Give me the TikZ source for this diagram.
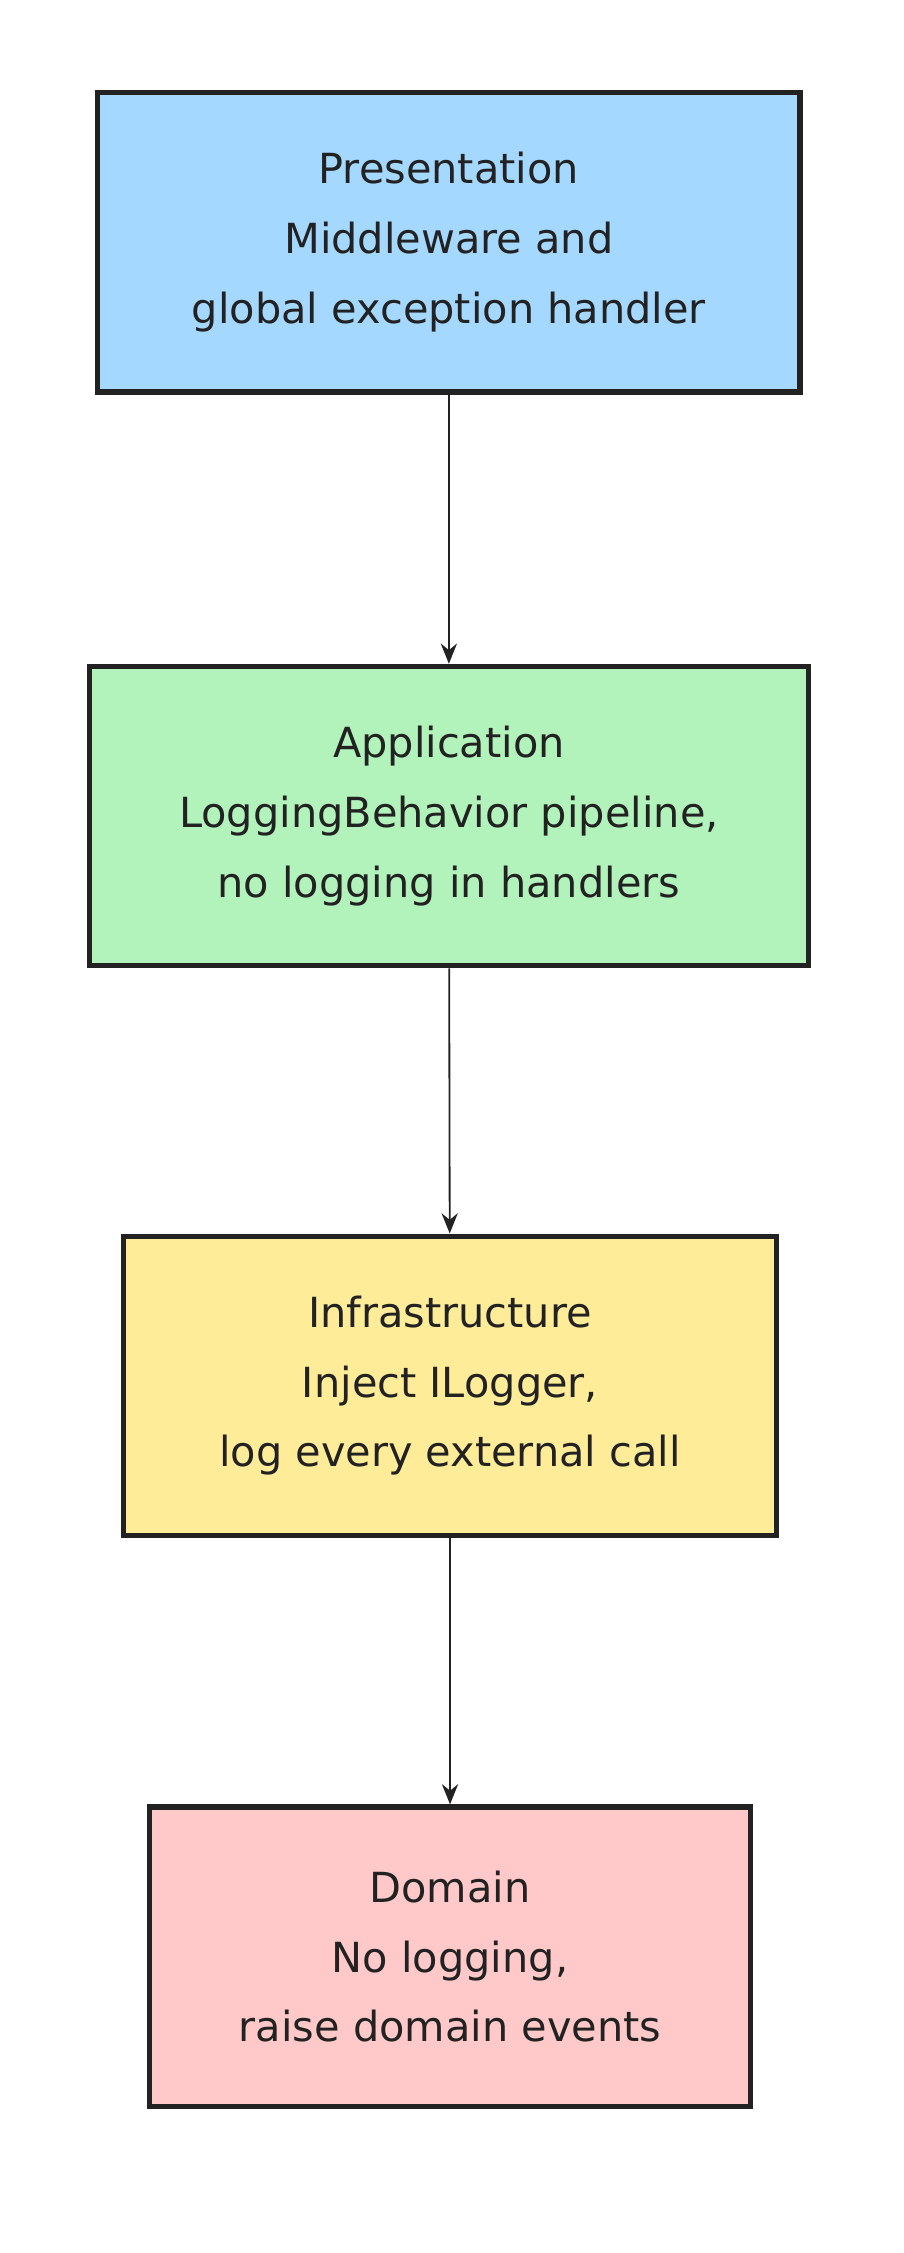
\documentclass[tikz,border=0pt]{standalone}
\usepackage{fontspec}
\setmainfont{DejaVu Sans}
\usetikzlibrary{arrows.meta}
\definecolor{layerblue}{HTML}{A5D8FF}
\definecolor{layergreen}{HTML}{B2F2BB}
\definecolor{layeryellow}{HTML}{FFEC99}
\definecolor{layerred}{HTML}{FFC9C9}
\definecolor{inkdark}{HTML}{222222}
\tikzset{
	layer/.style={draw=inkdark, line width=2.6pt, align=center, text=inkdark,
		minimum height=5.2cm, inner sep=0pt,
		font=\fontsize{20.5}{34.5}\selectfont},
	dep/.style={-{Stealth[length=10pt,width=8pt]}, draw=inkdark, line width=0.9pt}
}
\begin{document}
\begin{tikzpicture}
	
	\useasboundingbox (0,0) rectangle (15.7,-39.15);
	
	%the four layers, top to bottom
	\node[layer, fill=layerblue, minimum width=12.2cm] (presentation) at (7.8,-4.21)
		{Presentation\\Middleware and\\global exception handler};
	\node[layer, fill=layergreen, minimum width=12.5cm] (application) at (7.8,-14.18)
		{Application\\LoggingBehavior pipeline,\\no logging in handlers};
	\node[layer, fill=layeryellow, minimum width=11.35cm] (infrastructure) at (7.82,-24.08)
		{Infrastructure\\Inject ILogger,\\log every external call};
	\node[layer, fill=layerred, minimum width=10.45cm] (domain) at (7.82,-34.0)
		{Domain\\No logging,\\raise domain events};
	
	%dependencies
	\draw[dep] (presentation) -- (application);
	\draw[dep] (application) -- (infrastructure);
	\draw[dep] (infrastructure) -- (domain);
	
\end{tikzpicture}
\end{document}
